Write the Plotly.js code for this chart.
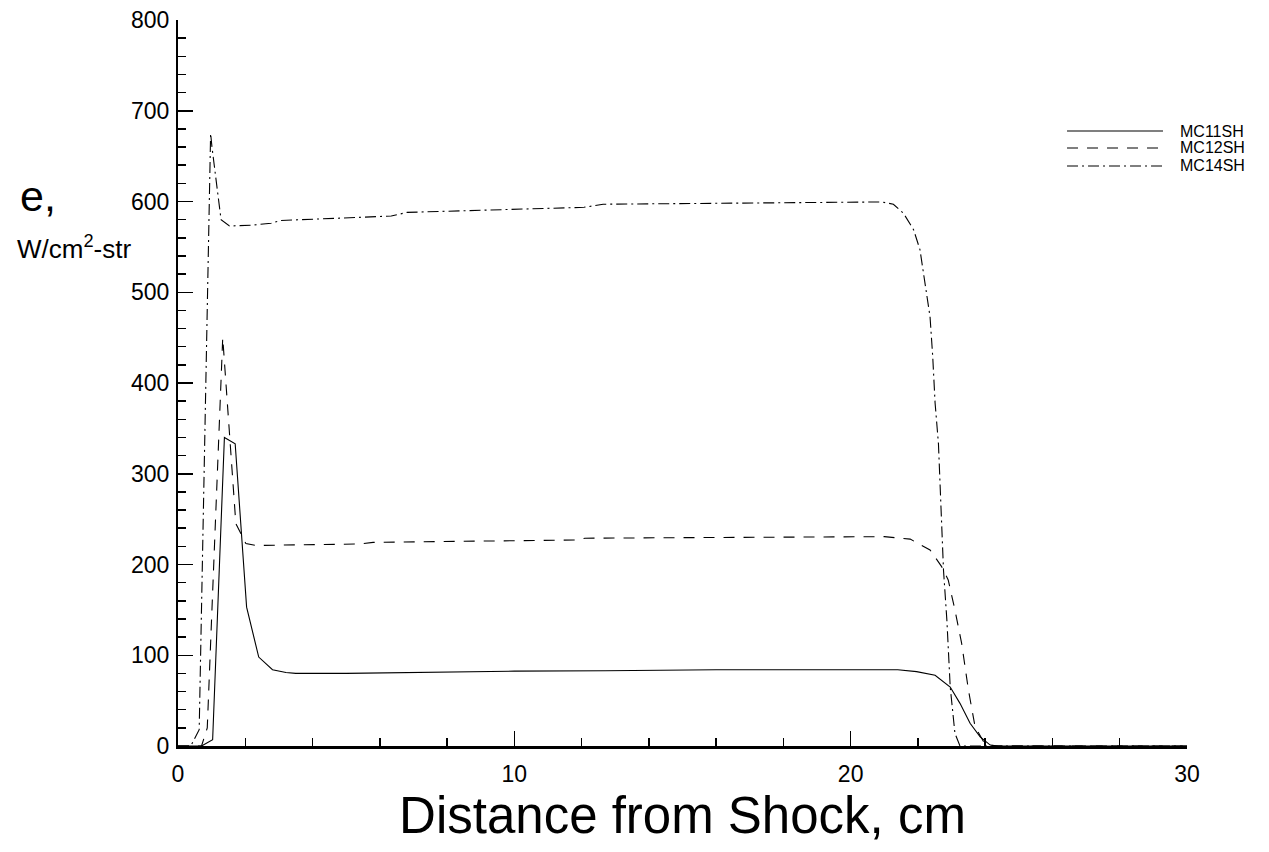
<!DOCTYPE html>
<html>
<head>
<meta charset="utf-8">
<script src="https://cdn.plot.ly/plotly-3.0.1.min.js"></script>
<style>html,body{margin:0;padding:0;background:#fff;}#chart{width:1269px;height:852px;}</style>
</head>
<body>
<div id="chart"></div>
<script>
// Series names
const seriesNames = ["MC11SH", "MC12SH", "MC14SH"];

// MC11SH (solid)
const mc11_x = [0, 0.7, 1.03, 1.38, 1.7, 2.04, 2.4, 2.81, 3.21, 3.5, 5, 6.9, 8, 10, 12.7, 14, 16, 18, 20, 21.4, 21.96, 22.51, 22.96, 23.25, 23.55, 23.85, 24.15, 24.4, 30];
const mc11_y = [0, 0, 7, 340, 333, 153, 98, 84, 81, 80, 80, 81, 82, 82.5, 83, 83.5, 84, 84, 84, 84, 82, 78, 65, 47, 25, 10, 1, 0, 0];

// MC12SH (dashed)
const mc12_x = [0, 0.7, 0.87, 1.33, 1.72, 1.87, 2.02, 2.32, 3.3, 5.4, 5.8, 11.8, 12.1, 21.0, 21.77, 22.36, 22.7, 22.9, 23.1, 23.3, 23.5, 23.7, 23.95, 24.25, 30];
const mc12_y = [0, 0, 20, 450, 245, 234, 223, 221, 221.5, 222.6, 224.4, 227, 229, 230.7, 228, 216, 198, 183, 150, 113, 62, 21, 5, 0, 0];

// MC14SH (dash-dot)
const mc14_x = [0, 0.38, 0.63, 0.97, 1.01, 1.28, 1.53, 2.22, 2.77, 3.03, 6.34, 6.81, 12.07, 12.64, 20.92, 21.27, 21.57, 21.87, 22.06, 22.21, 22.36, 22.44, 22.51, 22.61, 22.76, 22.86, 22.96, 23.1, 23.25, 30];
const mc14_y = [0, 0, 18, 675, 660, 580, 573, 574, 576, 579, 584, 588, 593.6, 597, 599.5, 597, 587, 569, 547, 510, 473, 429, 378, 333, 194, 139, 65, 14, 0, 0];

// Axis ticks
const xTicks = [0, 10, 20, 30];
const yTicks = [0, 100, 200, 300, 400, 500, 600, 700, 800];

const FONT = "Liberation Sans, Arial, sans-serif";
const dashes = ["solid", "11px,9px", "11px,4px,2px,4px"];

const traces = seriesNames.map((name, i) => ({
  x: [mc11_x, mc12_x, mc14_x][i],
  y: [mc11_y, mc12_y, mc14_y][i],
  name: name, mode: "lines", showlegend: false,
  line: {color: "#000", width: 1.1, dash: dashes[i]}
}));

// Custom legend (long sample lines like the reference)
const legendY = [0.8471, 0.8237, 0.7989];
const shapes = seriesNames.map((name, i) => ({
  type: "line", xref: "paper", yref: "paper",
  x0: 0.8811, x1: 0.9762, y0: legendY[i], y1: legendY[i],
  line: {color: "#000", width: 1.1, dash: dashes[i]}
}));
const legendAnn = seriesNames.map((name, i) => ({
  text: name, xref: "paper", yref: "paper", x: 0.9911, y: legendY[i],
  xanchor: "left", yanchor: "middle", showarrow: false,
  font: {family: FONT, size: 16, color: "#000"}
}));

const layout = {
  width: 1269, height: 852,
  margin: {l: 178, r: 82, t: 20, b: 106},
  paper_bgcolor: "#fff", plot_bgcolor: "#fff",
  font: {family: FONT, color: "#000"},
  showlegend: false,
  xaxis: {
    range: [0, 30], tickvals: xTicks, ticktext: xTicks.map(String),
    showgrid: false, zeroline: false,
    showline: true, linecolor: "#000", linewidth: 2.5,
    ticks: "inside", ticklen: 15, tickwidth: 1.5, tickcolor: "#000",
    minor: {ticks: "inside", dtick: 2, tick0: 0, ticklen: 8, tickwidth: 1.5, tickcolor: "#000", showgrid: false},
    tickfont: {family: FONT, size: 23, color: "#000"},
    ticklabelstandoff: 6,
    title: {text: "Distance from Shock, cm", font: {family: FONT, size: 51, color: "#000"}, standoff: 11},
    fixedrange: true
  },
  yaxis: {
    range: [0, 800], tickvals: yTicks, ticktext: yTicks.map(String),
    showgrid: false, zeroline: false,
    showline: true, linecolor: "#000", linewidth: 2,
    ticks: "inside", ticklen: 15, tickwidth: 1.5, tickcolor: "#000",
    minor: {ticks: "inside", dtick: 20, tick0: 0, ticklen: 8, tickwidth: 1.5, tickcolor: "#000", showgrid: false},
    tickfont: {family: FONT, size: 23, color: "#000"},
    ticklabelstandoff: 2,
    fixedrange: true
  },
  shapes: shapes,
  annotations: [
    {text: "e,", xref: "paper", yref: "paper", x: -0.1586, y: 0.7576, xanchor: "left", yanchor: "middle", showarrow: false, font: {family: FONT, size: 43, color: "#000"}},
    {text: "W/cm<sup>2</sup>-str", xref: "paper", yref: "paper", x: -0.1615, y: 0.6873, xanchor: "left", yanchor: "middle", showarrow: false, font: {family: FONT, size: 26, color: "#000"}}
  ].concat(legendAnn)
};

Plotly.newPlot("chart", traces, layout, {staticPlot: true, displayModeBar: false});
</script>
</body>
</html>
